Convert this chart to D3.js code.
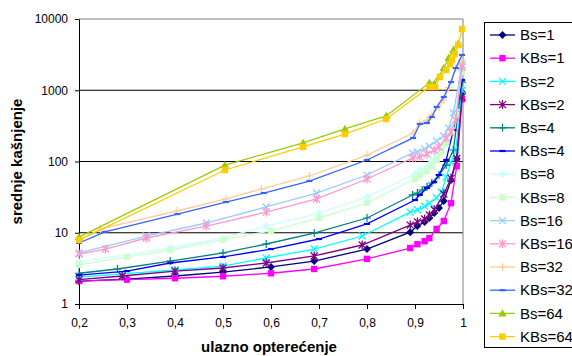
<!DOCTYPE html>
<html>
<head>
<meta charset="utf-8">
<script src="https://d3js.org/d3.v7.min.js"></script>
<style>
    body {
        margin: 0;
        background: #fff;
        font-family: Arial, "Liberation Sans", sans-serif;
    }
</style>
</head>
<body>
<script>
    const width = 572,
        height = 356;

    // tick labels
    const xTicks = [0.2, 0.3, 0.4, 0.5, 0.6, 0.7, 0.8, 0.9, 1];
    const yTicks = [1, 10, 100, 1000, 10000];

    const seriesNames = ["Bs=1", "KBs=1", "Bs=2", "KBs=2", "Bs=4", "KBs=4", "Bs=8",
        "KBs=8", "Bs=16", "KBs=16", "Bs=32", "KBs=32", "Bs=64", "KBs=64"];

    // ulazno opterecenje (x) / srednje kasnjenje (y) for each series
    const loadBs1 = [0.2, 0.3, 0.4, 0.5, 0.6, 0.69, 0.8, 0.89, 0.905, 0.92, 0.93, 0.94, 0.95, 0.96, 0.975, 0.987, 0.998];
    const delayBs1 = [2.1, 2.24, 2.47, 2.81, 3.31, 4.0, 5.9, 10.2, 12.4, 14.2, 16.1, 18.9, 22.3, 28, 55, 108, 940];

    const loadKBs1 = [0.2, 0.3, 0.4, 0.5, 0.6, 0.69, 0.8, 0.89, 0.905, 0.92, 0.93, 0.945, 0.96, 0.975, 0.987, 0.998];
    const delayKBs1 = [2.1, 2.2, 2.3, 2.45, 2.7, 3.1, 4.3, 6.1, 6.9, 7.6, 8.4, 11.3, 14.6, 26, 86, 750];

    const loadBs2 = [0.2, 0.29, 0.4, 0.5, 0.59, 0.69, 0.79, 0.89, 0.905, 0.92, 0.93, 0.945, 0.955, 0.965, 0.975, 0.985, 0.998];
    const delayBs2 = [2.39, 2.64, 3.0, 3.41, 4.42, 5.91, 9.0, 19.5, 21, 23.5, 26, 31, 37, 60, 98, 145, 1000];

    const loadKBs2 = [0.2, 0.29, 0.4, 0.5, 0.59, 0.69, 0.79, 0.89, 0.905, 0.92, 0.93, 0.94, 0.96, 0.975, 0.987, 0.998];
    const delayKBs2 = [2.2, 2.47, 2.9, 3.2, 3.76, 4.72, 6.73, 12.8, 14.2, 15.6, 17.7, 21, 35, 58, 110, 800];

    const loadBs4 = [0.2, 0.28, 0.39, 0.5, 0.59, 0.69, 0.8, 0.895, 0.905, 0.915, 0.925, 0.935, 0.95, 0.965, 0.98, 0.998];
    const delayBs4 = [2.7, 3.1, 4.0, 5.2, 6.95, 9.9, 16.1, 33.9, 36.1, 39.8, 43.9, 49.9, 64.6, 89, 145, 1300];

    const loadKBs4 = [0.2, 0.3, 0.39, 0.5, 0.6, 0.7, 0.8, 0.9, 0.91, 0.925, 0.94, 0.95, 0.965, 0.98, 0.998];
    const delayKBs4 = [2.55, 2.9, 3.76, 4.57, 5.91, 8.17, 13.3, 28.8, 33.9, 42.5, 51.5, 64.6, 105, 277, 1390];

    const loadBs8 = [0.2, 0.39, 0.5, 0.59, 0.7, 0.8, 0.9, 0.91, 0.925, 0.935, 0.945, 0.955, 0.965, 0.975, 0.985, 0.998];
    const delayBs8 = [3.9, 6.11, 8.44, 12.4, 18.9, 31.8, 66.8, 76, 86, 102, 123, 155, 200, 296, 527, 2050];

    const loadKBs8 = [0.2, 0.3, 0.39, 0.5, 0.6, 0.7, 0.8, 0.9, 0.91, 0.925, 0.935, 0.945, 0.955, 0.965, 0.975, 0.985, 0.998];
    const delayKBs8 = [3.53, 4.57, 5.7, 8.0, 10.6, 16.1, 26.2, 56.8, 64.6, 73.6, 86, 105, 136, 176, 259, 450, 1800];

    const loadBs16 = [0.2, 0.34, 0.465, 0.59, 0.695, 0.8, 0.895, 0.905, 0.92, 0.93, 0.945, 0.96, 0.97, 0.98, 0.998];
    const delayBs16 = [5.2, 9.0, 13.7, 23, 36.1, 64.6, 132, 136, 150, 165, 194, 228, 296, 480, 2260];

    const loadKBs16 = [0.2, 0.255, 0.34, 0.465, 0.59, 0.695, 0.8, 0.895, 0.91, 0.925, 0.94, 0.95, 0.965, 0.975, 0.985, 0.998];
    const delayKBs16 = [5.03, 5.9, 8.44, 12.4, 19.5, 29.8, 56.8, 112, 116, 127, 145, 160, 214, 259, 382, 2120];

    const loadBs32 = [0.2, 0.245, 0.404, 0.506, 0.58, 0.68, 0.8, 0.896, 0.91, 0.925, 0.935, 0.95, 0.96, 0.97, 0.985, 0.998];
    const delayBs32 = [7.9, 11.3, 20.2, 29.8, 41.1, 62.6, 123, 251, 347, 382, 450, 582, 730, 1080, 2050, 2650];

    const loadKBs32 = [0.2, 0.254, 0.405, 0.506, 0.585, 0.68, 0.8, 0.896, 0.91, 0.925, 0.935, 0.945, 0.96, 0.975, 0.985, 0.998];
    const delayKBs32 = [7.18, 10.3, 18.3, 27, 36.1, 53.2, 105, 214, 336, 347, 421, 582, 804, 1306, 2050, 3125];

    const loadBs64 = [0.2, 0.504, 0.667, 0.754, 0.84, 0.93, 0.94, 0.95, 0.96, 0.97, 0.98, 0.99];
    const delayBs64 = [8.7, 89, 182, 286, 436, 1270, 1230, 1540, 2050, 2830, 3670, 4500];

    const loadKBs64 = [0.2, 0.504, 0.667, 0.754, 0.84, 0.93, 0.942, 0.952, 0.965, 0.973, 0.977, 0.983, 0.99, 0.998];
    const delayKBs64 = [7.9, 76, 160, 243, 395, 1110, 1110, 1535, 1925, 2335, 2660, 3230, 4315, 7240];

    const loads = [loadBs1, loadKBs1, loadBs2, loadKBs2, loadBs4, loadKBs4, loadBs8,
        loadKBs8, loadBs16, loadKBs16, loadBs32, loadKBs32, loadBs64, loadKBs64];
    const delays = [delayBs1, delayKBs1, delayBs2, delayKBs2, delayBs4, delayKBs4, delayBs8,
        delayKBs8, delayBs16, delayKBs16, delayBs32, delayKBs32, delayBs64, delayKBs64];

    const colors = ["#000080", "#ff00ff", "#00ffff", "#800080", "#008080", "#0000ff", "#ccffff",
        "#ccffcc", "#99ccff", "#ff99cc", "#ffcc99", "#3366ff", "#99cc00", "#ffcc00"];
    const shapes = ["diamond", "square", "x", "star", "plus", "dash", "diamond",
        "square", "x", "star", "plus", "dash", "triangle", "square"];

    const svg = d3.select("body").append("svg")
        .attr("width", width)
        .attr("height", height);

    const plotLeft = 79, plotRight = 463, plotTop = 19, plotBottom = 304;

    const x = d3.scaleLinear().domain([0.2, 1]).range([plotLeft, plotRight]);
    const y = d3.scaleLog().domain([1, 10000]).range([plotBottom, plotTop]);

    // gridlines
    svg.append("g")
        .selectAll("line")
        .data(yTicks.slice(1))
        .enter()
        .append("line")
        .attr("x1", plotLeft)
        .attr("x2", plotRight)
        .attr("y1", d => y(d))
        .attr("y2", d => y(d))
        .attr("stroke", d => d === 10000 ? "#808080" : "#000")
        .attr("stroke-width", 1);

    svg.append("line")
        .attr("x1", plotRight).attr("x2", plotRight)
        .attr("y1", plotTop).attr("y2", plotBottom)
        .attr("stroke", "#808080");

    const xAxis = svg.append("g")
        .attr("transform", `translate(0,${plotBottom})`)
        .call(d3.axisBottom(x)
            .tickValues(xTicks)
            .tickSize(5)
            .tickSizeOuter(0)
            .tickPadding(9)
            .tickFormat(d => d === 1 ? "1" : d3.format(".1f")(d).replace(".", ",")));

    const yAxis = svg.append("g")
        .attr("transform", `translate(${plotLeft},0)`)
        .call(d3.axisLeft(y)
            .tickValues(yTicks)
            .tickSize(4)
            .tickSizeOuter(0)
            .tickPadding(7)
            .tickFormat(d3.format("d")));

    [xAxis, yAxis].forEach(a => {
        a.attr("font-family", "Arial, 'Liberation Sans', sans-serif")
            .attr("font-size", 12);
        a.selectAll("text").attr("fill", "#000");
        a.selectAll("line, path").attr("stroke", "#000");
    });

    function marker(g, shape, color) {
        if (shape === "square") {
            g.append("rect").attr("x", -3.2).attr("y", -3.2).attr("width", 6.4).attr("height", 6.4)
                .attr("fill", color);
        } else if (shape === "diamond") {
            g.append("path").attr("d", "M0,-4L4,0L0,4L-4,0Z").attr("fill", color);
        } else if (shape === "triangle") {
            g.append("path").attr("d", "M0,-4.2L4.2,3L-4.2,3Z").attr("fill", color);
        } else if (shape === "x") {
            g.append("path").attr("d", "M-3.5,-3.5L3.5,3.5M-3.5,3.5L3.5,-3.5")
                .attr("stroke", color).attr("stroke-width", 1.3).attr("fill", "none");
        } else if (shape === "star") {
            g.append("path").attr("d", "M-3.5,-3.5L3.5,3.5M-3.5,3.5L3.5,-3.5M0,-4.5L0,4.5")
                .attr("stroke", color).attr("stroke-width", 1.3).attr("fill", "none");
        } else if (shape === "plus") {
            g.append("path").attr("d", "M-4,0L4,0M0,-4L0,4")
                .attr("stroke", color).attr("stroke-width", 1.2).attr("fill", "none");
        } else if (shape === "dash") {
            g.append("path").attr("d", "M-3,0L3,0")
                .attr("stroke", color).attr("stroke-width", 2.2).attr("fill", "none");
        }
    }

    const line = d3.line()
        .x(d => x(d[0]))
        .y(d => y(d[1]));

    seriesNames.forEach((name, i) => {
        const pts = loads[i].map((l, j) => [l, delays[i][j]]);
        const g = svg.append("g");
        g.append("path")
            .datum(pts)
            .attr("d", line)
            .attr("fill", "none")
            .attr("stroke", colors[i])
            .attr("stroke-width", 1.3);
        g.selectAll("g.pt")
            .data(pts)
            .enter()
            .append("g")
            .attr("class", "pt")
            .attr("transform", d => `translate(${x(d[0])},${y(d[1])})`)
            .each(function () { marker(d3.select(this), shapes[i], colors[i]); });
    });

    // axis titles
    svg.append("text")
        .attr("x", (plotLeft + plotRight) / 2 - 2)
        .attr("y", 352)
        .attr("text-anchor", "middle")
        .attr("font-size", 15)
        .attr("font-weight", "bold")
        .text("ulazno opterećenje");

    svg.append("text")
        .attr("transform", `translate(22,${(plotTop + plotBottom) / 2}) rotate(-90)`)
        .attr("text-anchor", "middle")
        .attr("font-size", 15)
        .attr("font-weight", "bold")
        .text("srednje kašnjenje");

    // legend
    const legend = svg.append("g");
    legend.append("rect")
        .attr("x", 484.5)
        .attr("y", 22.5)
        .attr("width", 100)
        .attr("height", 325)
        .attr("fill", "#fff")
        .attr("stroke", "#000");

    seriesNames.forEach((name, i) => {
        const ly = 35 + i * 23.2;
        legend.append("line")
            .attr("x1", 490).attr("x2", 515)
            .attr("y1", ly).attr("y2", ly)
            .attr("stroke", colors[i])
            .attr("stroke-width", 1.3);
        const m = legend.append("g").attr("transform", `translate(502.5,${ly})`);
        marker(m, shapes[i], colors[i]);
        legend.append("text")
            .attr("x", 520)
            .attr("y", ly)
            .attr("dy", "0.35em")
            .attr("font-size", 15)
            .text(name);
    });
</script>
</body>
</html>
